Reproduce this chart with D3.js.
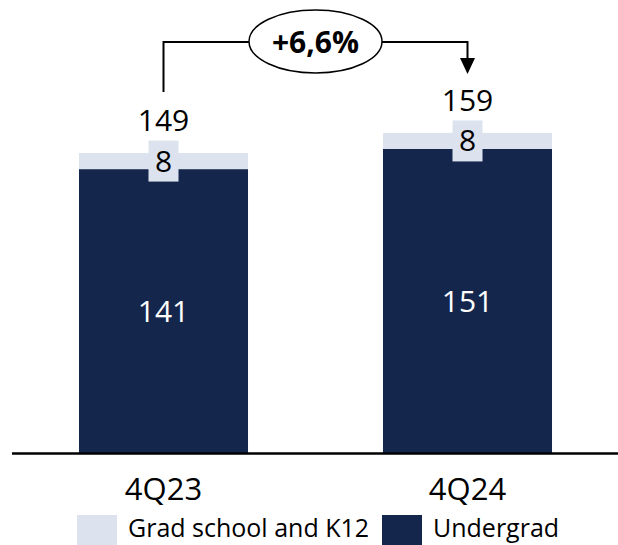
<!DOCTYPE html>
<html>
<head>
<meta charset="utf-8">
<script src="https://cdn.jsdelivr.net/npm/d3@7"></script>
<style>
  html, body { margin: 0; padding: 0; background: #ffffff; }
  svg { display: block; }
  text { font-family: "Open Sans", "Noto Sans", sans-serif; }
</style>
</head>
<body>
<svg id="chart" width="618" height="545"></svg>
<script>
// Enrollment by quarter, thousands
const quarters = ["4Q23", "4Q24"];
const undergrad = [141, 151];
const gradSchoolK12 = [8, 8];
const seriesNames = ["Grad school and K12", "Undergrad"];
const growthLabel = "+6,6%";

const NAVY = "#15264d";
const LIGHT = "#dde3ee";

const svg = d3.select("#chart");
const baseY = 453;

const rows = quarters.map((q, i) => ({
  quarter: q,
  undergrad: undergrad[i],
  grad: gradSchoolK12[i],
  total: undergrad[i] + gradSchoolK12[i]
}));

const x = d3.scaleBand()
  .domain(quarters)
  .range([11.5, 619.5])
  .paddingInner(0.444)
  .paddingOuter(0.222);

const y = d3.scaleLinear()
  .domain([0, 225])
  .range([baseY, 0]);

const stack = d3.stack().keys(["undergrad", "grad"]);
const layers = stack(rows);
const colorOf = { undergrad: NAVY, grad: LIGHT };

// Stacked bars
svg.append("g")
  .selectAll("g")
  .data(layers)
  .join("g")
  .attr("fill", d => colorOf[d.key])
  .selectAll("rect")
  .data(d => d)
  .join("rect")
  .attr("x", d => x(d.data.quarter))
  .attr("width", x.bandwidth())
  .attr("y", d => y(d[1]))
  .attr("height", d => y(d[0]) - y(d[1]));

// Category axis along the baseline
const xAxis = svg.append("g")
  .attr("transform", `translate(0,${baseY})`)
  .call(d3.axisBottom(x).tickSize(0).tickPadding(0));
xAxis.select(".domain")
  .attr("stroke", "#000")
  .attr("stroke-width", 2.5);
xAxis.selectAll(".tick text")
  .attr("dy", null)
  .attr("y", 47)
  .attr("fill", "#000")
  .attr("font-size", 31)
  .style("font-family", "'Open Sans', sans-serif");

const cx = d => x(d.quarter) + x.bandwidth() / 2;

// Undergrad values inside the bars
svg.append("g")
  .selectAll("text")
  .data(rows)
  .join("text")
  .attr("x", cx)
  .attr("y", d => (y(0) + y(d.undergrad)) / 2 + 11)
  .attr("text-anchor", "middle")
  .attr("font-size", 30)
  .attr("fill", "#fff")
  .text(d => d.undergrad);

// Grad school / K12 values on small boxes over the thin segment
const gradLabels = svg.append("g")
  .selectAll("g")
  .data(rows)
  .join("g")
  .attr("transform", d => `translate(${cx(d)},${(y(d.undergrad) + y(d.total)) / 2})`);
gradLabels.append("rect")
  .attr("x", -15)
  .attr("y", -20.5)
  .attr("width", 30)
  .attr("height", 41)
  .attr("fill", LIGHT);
gradLabels.append("text")
  .attr("y", 10.5)
  .attr("text-anchor", "middle")
  .attr("font-size", 30)
  .attr("fill", "#000")
  .text(d => d.grad);

// Totals above the bars
svg.append("g")
  .selectAll("text")
  .data(rows)
  .join("text")
  .attr("x", cx)
  .attr("y", d => y(d.total) - 22)
  .attr("text-anchor", "middle")
  .attr("font-size", 30)
  .attr("fill", "#000")
  .text(d => d.total);

// Growth bracket with arrow
const x0 = cx(rows[0]), x1 = cx(rows[1]);
const bracketY = 42;
const ell = { cx: 315.5, cy: 41.5, rx: 66.5, ry: 31.5 };

svg.append("path")
  .attr("d", `M${x0},${y(rows[0].total) - 61} V${bracketY} H${ell.cx - ell.rx}`)
  .attr("fill", "none")
  .attr("stroke", "#000")
  .attr("stroke-width", 2);

const tipY = 74;
svg.append("path")
  .attr("d", `M${ell.cx + ell.rx},${bracketY} H${x1} V${tipY - 14}`)
  .attr("fill", "none")
  .attr("stroke", "#000")
  .attr("stroke-width", 2);
svg.append("path")
  .attr("d", `M${x1 - 7.5},${tipY - 16} L${x1 + 7.5},${tipY - 16} L${x1},${tipY} Z`)
  .attr("fill", "#000");

svg.append("ellipse")
  .attr("cx", ell.cx)
  .attr("cy", ell.cy)
  .attr("rx", ell.rx)
  .attr("ry", ell.ry)
  .attr("fill", "#fff")
  .attr("stroke", "#000")
  .attr("stroke-width", 1.5);

svg.append("text")
  .attr("x", ell.cx)
  .attr("y", 53)
  .attr("text-anchor", "middle")
  .attr("font-size", 30)
  .attr("font-weight", 700)
  .attr("fill", "#000")
  .text(growthLabel);

// Legend
const legendItems = [
  { name: seriesNames[0], color: LIGHT, x: 77 },
  { name: seriesNames[1], color: NAVY, x: 382 }
];
const lg = svg.append("g")
  .selectAll("g")
  .data(legendItems)
  .join("g")
  .attr("transform", d => `translate(${d.x},515)`);
lg.append("rect")
  .attr("width", 40)
  .attr("height", 30)
  .attr("fill", d => d.color);
lg.append("text")
  .attr("x", 51)
  .attr("y", 22)
  .attr("font-size", 25)
  .attr("fill", "#000")
  .text(d => d.name);
</script>
</body>
</html>
